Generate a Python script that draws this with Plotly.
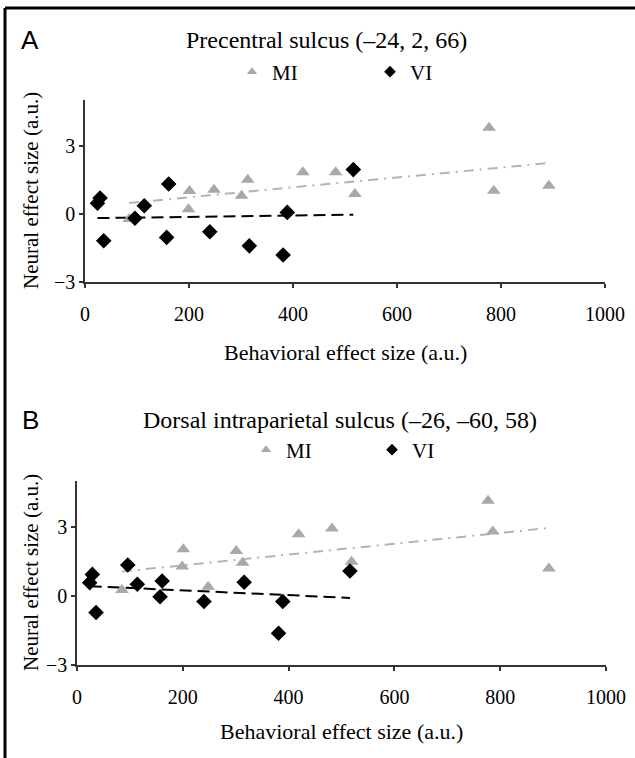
import numpy as np
import plotly.graph_objects as go

# ---- data ----
mi_x = [85, 199, 201, 248, 301, 313, 419, 482, 519, 777, 786, 892]
vi_x = [24, 29, 36, 96, 114, 157, 161, 240, 316, 381, 389, 516]

a_mi_y = [-0.23, 0.20, 1.00, 1.06, 0.79, 1.49, 1.82, 1.82, 0.87, 3.78, 1.01, 1.23]
a_vi_y = [0.46, 0.69, -1.19, -0.20, 0.35, -1.04, 1.31, -0.79, -1.41, -1.81, 0.06, 1.94]

b_mi_y = [0.26, 1.28, 2.03, 0.40, 1.96, 1.45, 2.68, 2.94, 1.49, 4.14, 2.80, 1.20]
b_vi_y = [0.58, 0.94, -0.72, 1.35, 0.51, -0.03, 0.65, -0.24, 0.60, -1.62, -0.24, 1.09]

x_ticks = [0, 200, 400, 600, 800, 1000]
y_ticks = [-3, 0, 3]

title_a = "Precentral sulcus (\u201324, 2, 66)"
title_b = "Dorsal intraparietal sulcus (\u201326, \u201360, 58)"
x_title = "Behavioral effect size (a.u.)"
y_title = "Neural effect size (a.u.)"

W, H = 635, 758
SERIF = "Liberation Serif"
MI_COLOR = "#a9a9a9"
MI_LINE = "#b4b4b4"
VI_COLOR = "#000000"


def px(x):
    return x / W


def py(y):
    return 1 - y / H


fig = go.Figure()


def fit_line(xs, ys):
    k, b = np.polyfit(xs, ys, 1)
    xx = [min(xs), max(xs)]
    return xx, [k * v + b for v in xx]


panels = [
    ("x", "y", a_mi_y, a_vi_y, "legend"),
    ("x2", "y2", b_mi_y, b_vi_y, "legend2"),
]
for xa, ya, mi_y, vi_y, lg in panels:
    lx, ly = fit_line(mi_x, mi_y)
    fig.add_trace(go.Scatter(x=lx, y=ly, mode="lines", xaxis=xa, yaxis=ya,
                             line=dict(color=MI_LINE, width=2, dash="10px,6px,2px,6px"),
                             showlegend=False, hoverinfo="skip"))
    lx, ly = fit_line(vi_x, vi_y)
    fig.add_trace(go.Scatter(x=lx, y=ly, mode="lines", xaxis=xa, yaxis=ya,
                             line=dict(color=VI_COLOR, width=2, dash="12px,6px"),
                             showlegend=False, hoverinfo="skip"))
    fig.add_trace(go.Scatter(x=mi_x, y=mi_y, mode="markers", xaxis=xa, yaxis=ya,
                             marker=dict(symbol="triangle-up", size=12, color=MI_COLOR),
                             showlegend=False, name="MI"))
    fig.add_trace(go.Scatter(x=vi_x, y=vi_y, mode="markers", xaxis=xa, yaxis=ya,
                             marker=dict(symbol="diamond", size=12, color=VI_COLOR),
                             showlegend=False, name="VI"))
    # legend entries
    fig.add_trace(go.Scatter(x=[None], y=[None], mode="markers", xaxis=xa, yaxis=ya,
                             marker=dict(symbol="triangle-up", size=9, color=MI_COLOR),
                             name="MI", legend=lg))
    fig.add_trace(go.Scatter(x=[None], y=[None], mode="markers", xaxis=xa, yaxis=ya,
                             marker=dict(symbol="diamond", size=9, color=VI_COLOR),
                             name="VI", legend=lg))

axis_common = dict(showline=True, linecolor="#333333", linewidth=1.5, ticks="outside",
                   ticklen=4, tickwidth=1.5, tickcolor="#333333", showgrid=False,
                   zeroline=False, tickfont=dict(family=SERIF, size=20, color="#000"),
                   fixedrange=True)

fig.update_layout(
    width=W, height=H,
    margin=dict(l=0, r=0, t=0, b=0, autoexpand=False),
    paper_bgcolor="white", plot_bgcolor="white",
    xaxis=dict(domain=[px(85), px(605)], range=[0, 1000], tickvals=x_ticks,
               anchor="y", ticklabelstandoff=9, **axis_common),
    yaxis=dict(domain=[py(282), py(100)], range=[-3, 5], tickvals=y_ticks,
               anchor="x", ticklabelstandoff=0, **axis_common),
    xaxis2=dict(domain=[px(77), px(606)], range=[0, 1000], tickvals=x_ticks,
                anchor="y2", ticklabelstandoff=9, **axis_common),
    yaxis2=dict(domain=[py(665), py(481)], range=[-3, 5], tickvals=y_ticks,
                anchor="x2", ticklabelstandoff=0, **axis_common),
    legend=dict(orientation="h", x=px(251 - 19), xanchor="left", y=py(72), yanchor="middle",
                entrywidth=93, entrywidthmode="pixels", bgcolor="rgba(0,0,0,0)",
                font=dict(family=SERIF, size=21, color="#000"), itemclick=False),
    legend2=dict(orientation="h", x=px(265 - 19), xanchor="left", y=py(450), yanchor="middle",
                 entrywidth=81, entrywidthmode="pixels", bgcolor="rgba(0,0,0,0)",
                 font=dict(family=SERIF, size=21, color="#000"), itemclick=False),
    showlegend=True,
)

ann = []
ann.append(dict(text="A", x=px(30), y=py(40), font=dict(family="Liberation Sans", size=26)))
ann.append(dict(text="B", x=px(30), y=py(420), font=dict(family="Liberation Sans", size=26)))
ann.append(dict(text=title_a, x=px(184), y=py(40), xanchor="left", font=dict(family=SERIF, size=24)))
ann.append(dict(text=title_b, x=px(141), y=py(420), xanchor="left", font=dict(family=SERIF, size=24)))
ann.append(dict(text=x_title, x=px(345), y=py(352), font=dict(family=SERIF, size=22)))
ann.append(dict(text=x_title, x=px(341), y=py(731), font=dict(family=SERIF, size=22)))
ann.append(dict(text=y_title, x=px(31), y=py(191), textangle=-90, font=dict(family=SERIF, size=21)))
ann.append(dict(text=y_title, x=px(31), y=py(573), textangle=-90, font=dict(family=SERIF, size=21)))
for a in ann:
    a.setdefault("xanchor", "center")
    a.update(xref="paper", yref="paper", yanchor="middle", showarrow=False)
    a["font"]["color"] = "#000"
fig.update_layout(annotations=ann)

# outer frame (top and left edges visible in the reference)
fig.add_shape(type="line", xref="paper", yref="paper", x0=px(5), x1=1.0, y0=py(8), y1=py(8),
              line=dict(color="#000", width=3))
fig.add_shape(type="line", xref="paper", yref="paper", x0=px(5), x1=px(5), y0=py(8), y1=0,
              line=dict(color="#000", width=3))

fig.write_html(
    "out.html",
    config={"displayModeBar": False},
    post_script="document.body.style.margin='0';document.body.style.overflow='hidden';"
                "document.documentElement.style.overflow='hidden';",
)
